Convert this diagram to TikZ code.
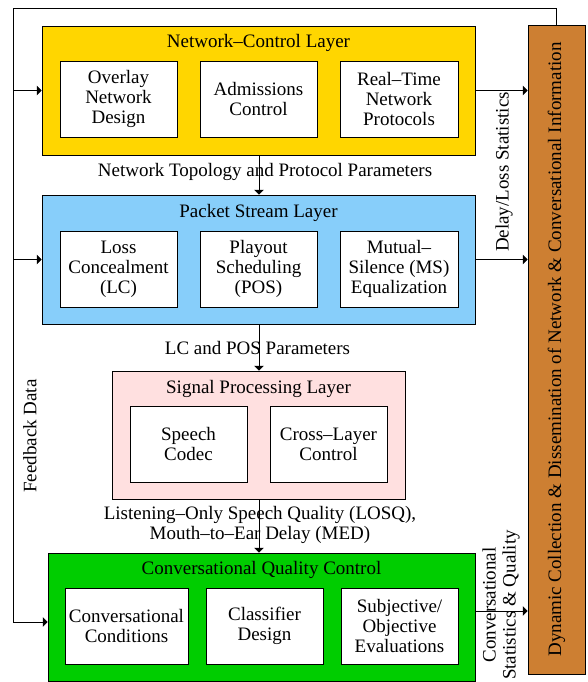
\documentclass[tikz,border=0pt]{standalone}
\usepackage{fontspec}
\setmainfont{Liberation Serif}
\usepackage{tikz}
\usetikzlibrary{arrows,shapes}
\definecolor{ncyellow}{RGB}{255,214,0}
\definecolor{psblue}{RGB}{135,206,250}
\definecolor{sppink}{RGB}{255,224,224}
\definecolor{cqgreen}{RGB}{0,205,0}
\definecolor{dcbrown}{RGB}{205,127,50}
\tikzset{
  layer/.style={rectangle,draw,line width=0.7pt},
  unit/.style={rectangle,draw,fill=white,line width=0.7pt,align=center,minimum height=76pt,inner sep=2pt},
  flow/.style={->,>=triangle 90,line width=0.7pt},
}
\begin{document}
\fontsize{19}{20}\selectfont
\begin{tikzpicture}[x=1pt,y=-1pt]
\useasboundingbox (0,0) rectangle (587,682);
		% network-control layer
		\node[layer,fill=ncyellow,minimum width=433pt,minimum height=129pt] (ncl) at (258.5,90.5) {};
		\node (nclt) at (258.5,43) {Network--Control Layer};
		\node[unit,minimum width=117pt] (ond) at (118.5,99) {Overlay\\Network\\Design};
		\node[unit,minimum width=117pt] (adc) at (258.5,99) {Admissions\\Control};
		\node[unit,minimum width=118pt] (rtp) at (399,99) {Real--Time\\Network\\Protocols};
		% packet stream layer
		\node[layer,fill=psblue,minimum width=433pt,minimum height=129pt] (psl) at (258.5,259.5) {};
		\node (pslt) at (258.5,213) {Packet Stream Layer};
		\node[unit,minimum width=117pt] (lc) at (118.5,269) {Loss\\Concealment\\(LC)};
		\node[unit,minimum width=117pt] (pos) at (258.5,269) {Playout\\Scheduling\\(POS)};
		\node[unit,minimum width=118pt] (mse) at (399,269) {Mutual--\\Silence (MS)\\Equalization};
		% signal processing layer
		\node[layer,fill=sppink,minimum width=293pt,minimum height=128pt] (spl) at (258.5,435) {};
		\node (splt) at (258.5,389) {Signal Processing Layer};
		\node[unit,minimum width=117pt] (sc) at (188.5,444) {Speech\\Codec};
		\node[unit,minimum width=117pt] (clc) at (328.5,444) {Cross--Layer\\Control};
		% conversational quality control
		\node[layer,fill=cqgreen,minimum width=427pt,minimum height=128pt] (cqc) at (261.5,617) {};
		\node (cqct) at (261.5,570) {Conversational Quality Control};
		\node[unit,minimum width=123pt] (cc) at (126.5,626) {Conversational\\Conditions};
		\node[unit,minimum width=117pt] (cd) at (264.5,626) {Classifier\\Design};
		\node[unit,minimum width=117pt] (soe) at (399.5,626) {Subjective/\\Objective\\Evaluations};
		% collection & dissemination
		\node[layer,fill=dcbrown,minimum width=57pt,minimum height=649pt] (dcd) at (556.5,349.5) {};
		\node[rotate=90] (dcdt) at (556.5,349.5) {Dynamic Collection \& Dissemination of Network \& Conversational Information};

		% downward parameters
		\draw[flow] (ncl.south -| 259,0) -- (psl.north -| 259,0);
		\node (ntp) at (265,172) {Network Topology and Protocol Parameters};
		\draw[flow] (psl.south -| 259,0) -- (spl.north -| 259,0);
		\node (lcp) at (257.5,348) {LC and POS Parameters};
		\draw[flow] (spl.south -| 259,0) -- (cqc.north -| 259,0);
		\node[align=center] (losq) at (260,525) {Listening--Only Speech Quality (LOSQ),\\Mouth--to--Ear Delay (MED)};

		% statistics to the right
		\draw[flow] (ncl.east) -- (ncl.east -| dcd.west);
		\draw[flow] (psl.east) -- (psl.east -| dcd.west);
		\coordinate (csq) at (475,611);
		\draw[flow] (csq) -- (csq -| dcd.west);
		\node[rotate=90] (dls) at (504,172) {Delay/Loss Statistics};
		\node[rotate=90,align=center] (csqt) at (501,605) {Conversational\\Statistics \& Quality};

		% feedback
		\coordinate (fbtr) at (556.5,8);
		\coordinate (fbtl) at (13,8);
		\coordinate (fbbl) at (13,622);
		\draw[line width=0.7pt] (dcd.north) -- (fbtr) -- (fbtl) -- (fbbl);
		\draw[flow] (fbbl) -- (fbbl -| cqc.west);
		\draw[flow] (fbtl |- ncl.west) -- (ncl.west);
		\draw[flow] (fbtl |- psl.west) -- (psl.west);
		\node[rotate=90] (fbd) at (30,436) {Feedback Data};
\end{tikzpicture}
\end{document}
